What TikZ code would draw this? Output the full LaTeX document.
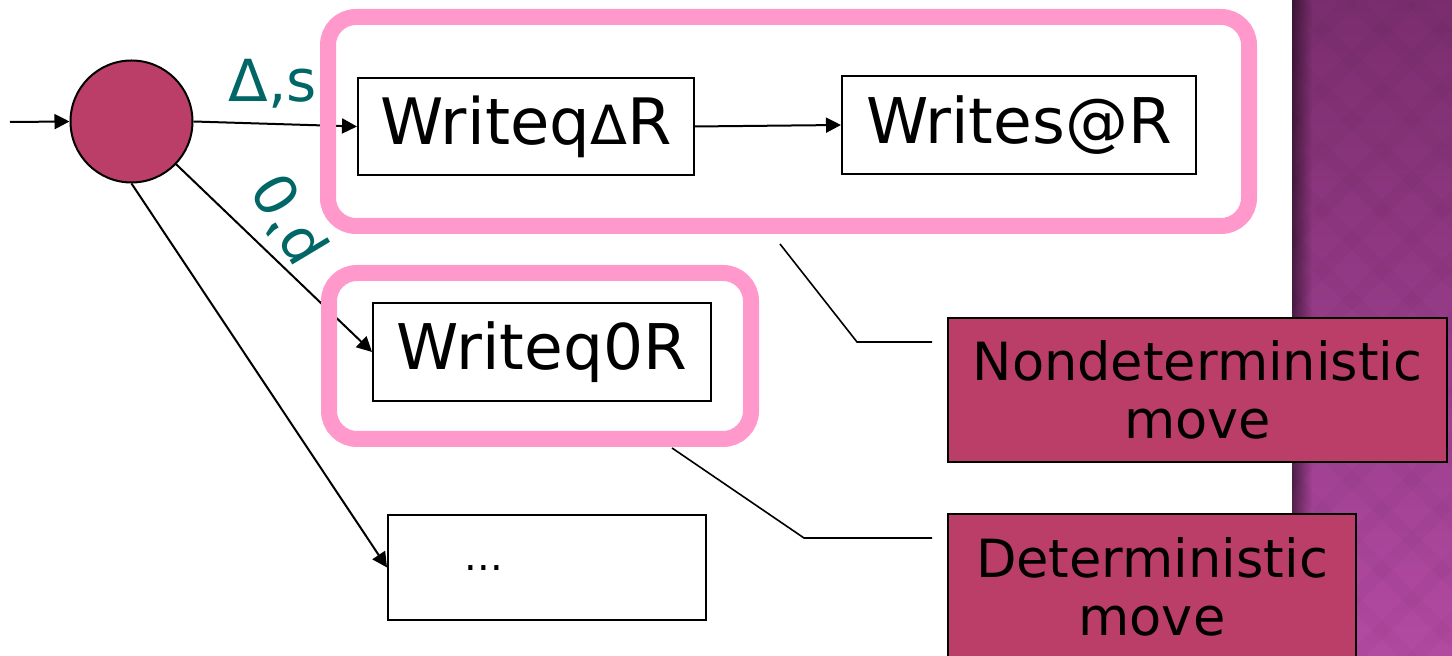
\documentclass[tikz,border=0pt]{standalone}
\usepackage{fontspec}
\setmainfont{DejaVu Sans}
\usetikzlibrary{arrows.meta,fadings}
\definecolor{rose}{RGB}{186,62,104}
\definecolor{pinkline}{RGB}{255,153,204}
\definecolor{labteal}{RGB}{0,102,102}
\definecolor{ptop}{RGB}{122,45,110}
\definecolor{pmid}{RGB}{150,60,136}
\definecolor{pbot}{RGB}{178,74,162}
\tikzfading[name=fadeR, left color=transparent!0, right color=transparent!100]
\begin{document}
\begin{tikzpicture}[x=0.5pt,y=-0.5pt,
  box/.style={draw=black,line width=1pt,fill=white,inner sep=0pt,font=\fontsize{31.5}{34}\selectfont},
  call/.style={draw=black,line width=1pt,fill=rose,inner sep=0pt,align=center,font=\fontsize{26.3}{29}\selectfont},
  arr/.style={line width=1pt,-{Triangle[length=7.5pt,width=7.5pt]}},
  lead/.style={line width=0.8pt},
  grp/.style={draw=pinkline,line width=8pt,rounded corners=14pt},
  lab/.style={text=labteal,font=\fontsize{29}{30}\selectfont,inner sep=0pt}]
\clip (0,0) rectangle (1452,656);
\fill[white] (0,0) rectangle (1452,656);
% background strip
\shade[top color=ptop,middle color=pmid,bottom color=pbot] (1292,0) rectangle (1452,656);
\begin{scope}
  \clip (1292,0) rectangle (1452,656);
  \foreach \k in {-12,...,14} {
    \draw[black,opacity=0.02,line width=7pt] (1292+\k*60,0) -- ++(700,700);
    \draw[black,opacity=0.02,line width=7pt] (1292+\k*60,0) -- ++(-700,700);
  }
\end{scope}
\fill[black,opacity=0.5,path fading=fadeR] (1292,0) rectangle (1312,656);

% state
\node[circle,draw=black,line width=1pt,fill=rose,minimum size=61pt,inner sep=0pt] (q) at (131.5,121.5) {};
\coordinate (start) at (10,122);

% boxes
\node[box,minimum width=168pt,minimum height=48.5pt,font=\fontsize{32}{34}\selectfont] (A) at (526,126.5) {Writeq{\fontsize{27}{27}\selectfont Δ}R};
\node[box,minimum width=177pt,minimum height=49pt] (B) at (1019,125) {Writes@R};
\node[box,minimum width=169pt,minimum height=49pt] (C) at (542,352) {Writeq0R};
\node[box,minimum width=159pt,minimum height=52.5pt] (D) at (547,567.5) {};
\node[font=\fontsize{20}{20}\selectfont,inner sep=0pt,anchor=base] (Ddots) at (484,571) {...};

% arrows
\draw[arr] (start) -- (q.west);
\draw[arr] (q.east) -- (A.west);
\draw[arr] (A.east) -- (B.west);
\draw[arr] (q) -- (C.west);
\draw[arr] (q.south) -- (D.west);

% labels
\node[lab,anchor=base] (l1) at (273,102) {Δ,s};
\node[lab,rotate=-59] (l2) at (288,220) {\scalebox{-1}[1]{b,0}};

% groups
\draw[grp] (328,17) rectangle (1249,226);
\draw[grp] (329,273) rectangle (751,439);

% callouts
\node[call,minimum width=249.5pt,minimum height=72pt] (N) at (1197.5,390) {Nondeterministic\\move};
\node[call,minimum width=204pt,minimum height=73pt] (M) at (1152,587) {Deterministic\\move};

\coordinate (n0) at (780,244);
\coordinate (n1) at (857,342);
\coordinate (n2) at (932,342);
\coordinate (m0) at (672,448);
\coordinate (m1) at (804,538);
\coordinate (m2) at (932,538);
\draw[lead] (n0) -- (n1) -- (n2);
\draw[lead] (m0) -- (m1) -- (m2);
\end{tikzpicture}
\end{document}
